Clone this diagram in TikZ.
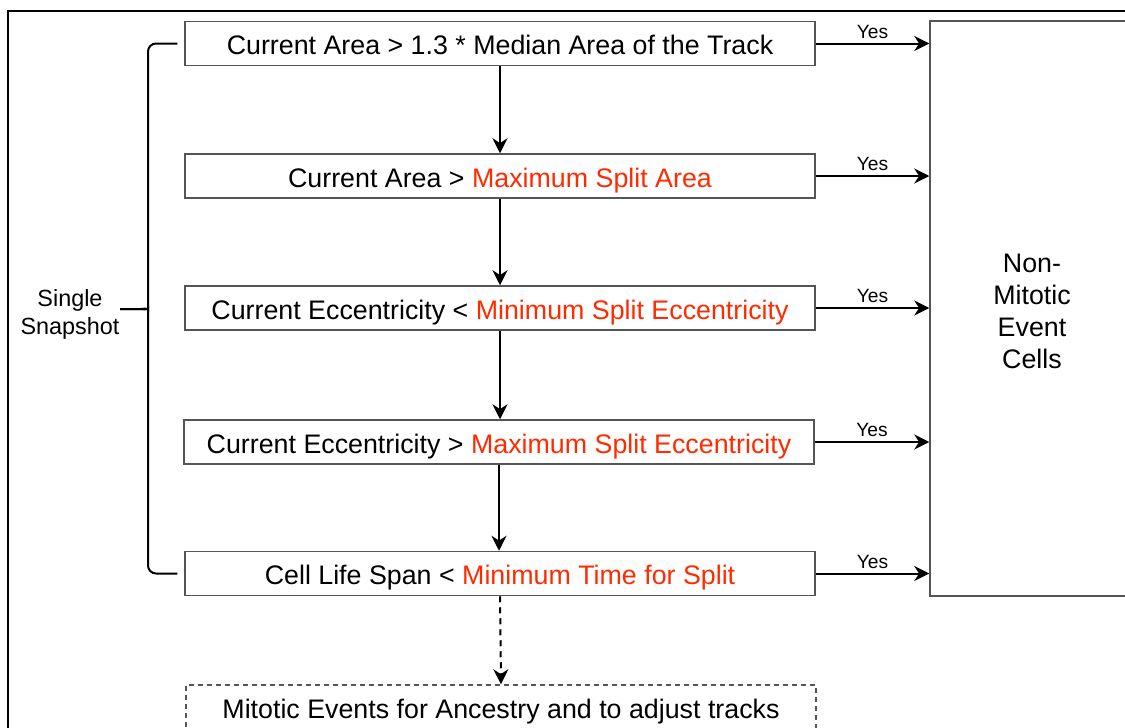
\documentclass[tikz,border=0pt]{standalone}
\usepackage{fontspec}
\setmainfont{Liberation Sans}
\usepackage{xcolor}
\usetikzlibrary{arrows.meta}
\definecolor{splitR}{HTML}{FF2A00}
\definecolor{boxG}{HTML}{555555}

\tikzset{
  cond/.style={draw=boxG, line width=0.75pt, minimum width=315pt, minimum height=22pt,
    inner sep=0pt, text height=11pt, text depth=0pt,
    font=\fontsize{13.4}{16}\selectfont},
  flow/.style={-{Stealth[length=7.5pt, width=7.5pt]}, line width=1pt},
  yes/.style={font=\fontsize{9.6}{11}\selectfont, above, inner sep=2pt}
}

\begin{document}
\begin{tikzpicture}[x=0.5pt, y=-0.5pt]
  \clip (0,0) rectangle (1125,728);
  \useasboundingbox (0,0) rectangle (1125,728);

  % outer frame, cut by the page
  \draw[line width=1pt] (8,11) rectangle (1140,740);

  % tests on a single snapshot
  \node[cond] (c1) at (500,43.5) {Current Area > 1.3 * Median Area of the Track};
  \node[cond] (c2) at (500,176) {Current Area > \textcolor{splitR}{Maximum Split Area}};
  \node[cond] (c3) at (500,308) {Current Eccentricity < \textcolor{splitR}{Minimum Split Eccentricity}};
  \node[cond] (c4) at (499,442) {Current Eccentricity > \textcolor{splitR}{Maximum Split Eccentricity}};
  \node[cond] (c5) at (500,573.5) {Cell Life Span < \textcolor{splitR}{Minimum Time for Split}};
  \node[cond, dashed, dash pattern=on 2.5pt off 2pt] (mit) at (501,707)
    {Mitotic Events for Ancestry and to adjust tracks};

  \node[draw=boxG, line width=0.75pt, minimum width=102pt, minimum height=287.5pt,
    align=center, font=\fontsize{13.4}{16}\selectfont] (nm) at (1032,308.5) {};
  \node[align=center, font=\fontsize{13.4}{16}\selectfont] (nmtxt) at (1032,311.5)
    {Non-\\Mitotic\\Event\\Cells};

  \foreach \a/\b in {c1/c2, c2/c3, c3/c4, c4/c5}{
    \draw[flow] (\a.south) -- (\a.south |- \b.north);
  }
  \draw[flow, dash pattern=on 3pt off 2.5pt] (c5.south) -- (mit.north);

  \foreach \c in {c1,c2,c3,c4,c5}{
    \draw[flow] (\c.east) -- (nm.west |- \c.east) node[yes, midway] {Yes};
  }

  % brace round the snapshot tests
  \coordinate (btip) at (120,309);
  \coordinate (bneck) at (135,309);
  \coordinate (bup) at (148,302);
  \coordinate (bdown) at (148,316);
  \draw[line width=1pt, rounded corners=4pt]
    ([xshift=-3.5pt]c1.west) -| (bup) to[out=-90, in=0] (bneck) -- (btip);
  \draw[line width=1pt, rounded corners=4pt]
    ([xshift=-3.5pt]c5.west) -| (bdown) to[out=90, in=0] (bneck) -- (btip);
  \node[align=center, font=\fontsize{11.7}{14}\selectfont] (snap) at (70,314)
    {Single\\Snapshot};
\end{tikzpicture}
\end{document}
